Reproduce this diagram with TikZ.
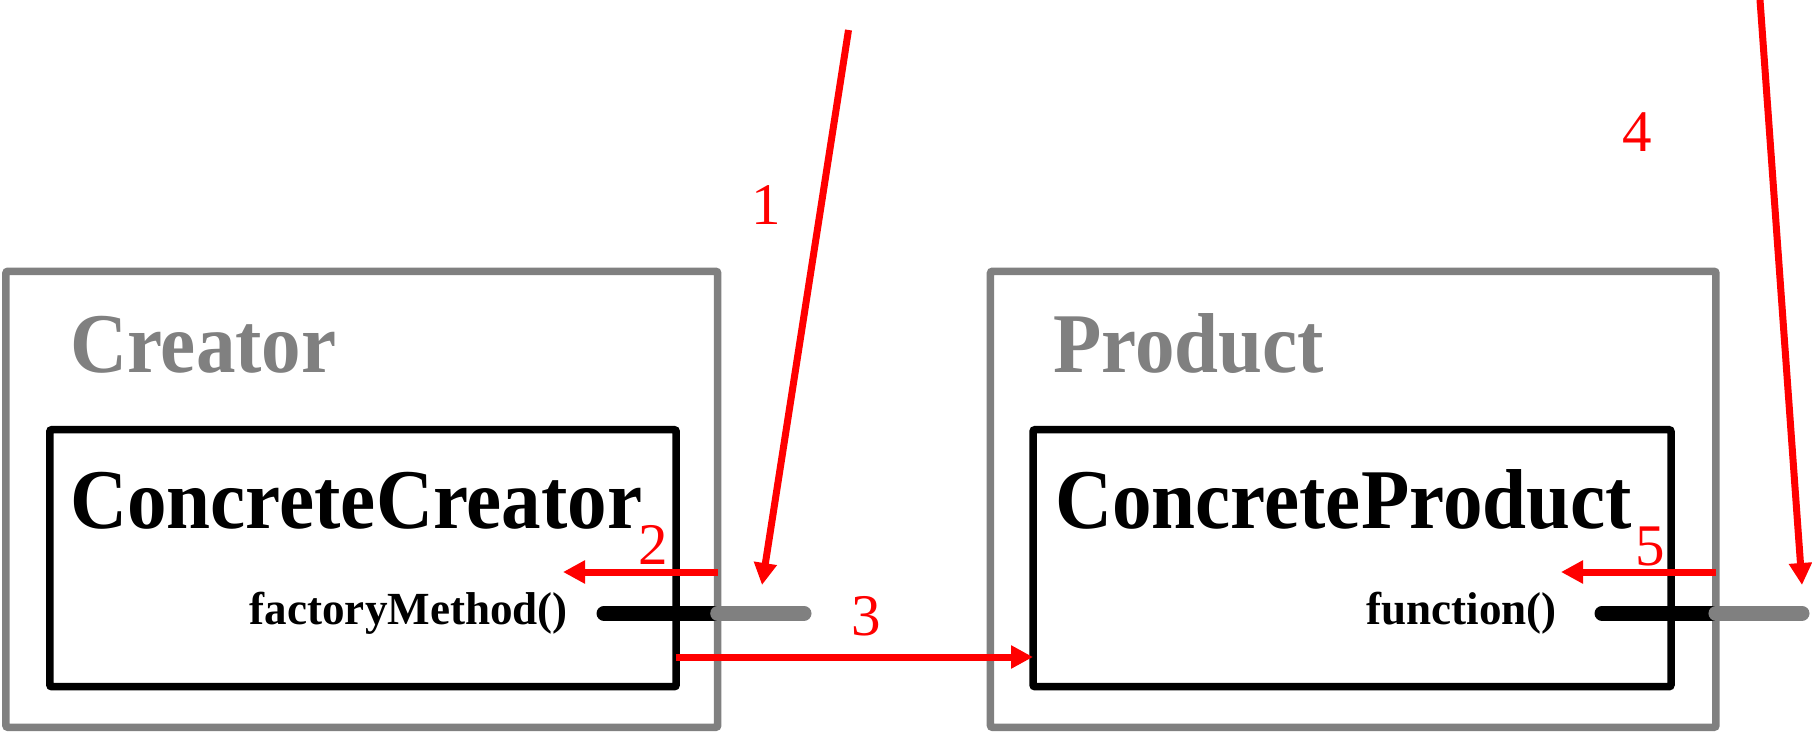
\documentclass[tikz,border=0pt]{standalone}
\usepackage{fontspec}
\setmainfont{Liberation Serif}
\usetikzlibrary{arrows.meta}
\definecolor{boxgray}{RGB}{128,128,128}
\begin{document}
\begin{tikzpicture}[x=1pt,y=-1pt,
  outerbox/.style={draw=boxgray, line width=7.5pt, rounded corners=2pt, outer sep=0pt, inner sep=0pt, rectangle},
  innerbox/.style={draw=black, line width=7.5pt, rounded corners=2pt, outer sep=0pt, inner sep=0pt, rectangle},
  title/.style={anchor=base west, inner sep=0pt, font=\bfseries\fontsize{85}{100}\selectfont},
  method/.style={anchor=base east, inner sep=0pt, font=\bfseries\fontsize{46}{55}\selectfont},
  num/.style={anchor=base west, inner sep=0pt, text=red, font=\fontsize{59}{70}\selectfont},
  blackbar/.style={draw=black, line width=15pt, line cap=round},
  graybar/.style={draw=boxgray, line width=15pt, line cap=round},
  redarrow/.style={draw=red, line width=7pt, -{Triangle[length=22pt,width=22pt]}}
]
\useasboundingbox (0,0) rectangle (1812,733);

% boxes
\node[outerbox, minimum width=711.8pt, minimum height=456pt] (creator) at (361.8,499.3) {};
\node[innerbox, minimum width=626.4pt, minimum height=257pt] (ccreator) at (363,558.2) {};
\node[outerbox, minimum width=725.5pt, minimum height=456pt] (product) at (1353.2,499.3) {};
\node[innerbox, minimum width=638pt, minimum height=257pt] (cproduct) at (1352,558.2) {};

% titles
\node[title, text=boxgray] (creatorlbl) at (70,372) {\scalebox{0.93}[1]{Creator}};
\node[title, text=boxgray] (productlbl) at (1053,372) {\scalebox{0.93}[1]{Product}};
\node[title] (ccreatorlbl) at (70,528.5) {\scalebox{0.93}[1]{ConcreteCreator}};
\node[title] (cproductlbl) at (1055,528.5) {\scalebox{0.93}[1]{ConcreteProduct}};

% methods
\node[method] (fm) at (568,624) {\scalebox{0.98}[1]{factoryMethod()}};
\node[method] (fn) at (1557,624) {\scalebox{0.98}[1]{function()}};

% method bars
\coordinate (fmL) at (604,613.3);
\coordinate (fmR) at (804,613.3);
\coordinate (fnL) at (1602,613.3);
\coordinate (fnR) at (1802,613.3);
\draw[blackbar] (fmL) -- (fmL -| creator.east);
\draw[graybar] (fmL -| creator.east) -- (fmR);
\draw[blackbar] (fnL) -- (fnL -| product.east);
\draw[graybar] (fnL -| product.east) -- (fnR);

% red arrows
\coordinate (a1s) at (848.5,30);
\coordinate (a1e) at (762,585);
\draw[redarrow] (a1s) -- (a1e);

\coordinate (a2e) at (563,572);
\draw[redarrow] (a2e -| creator.east) -- (a2e);

\coordinate (a3) at (0,657);
\draw[redarrow] (ccreator.east |- a3) -- (cproduct.west |- a3);

\coordinate (a4s) at (1760,0);
\coordinate (a4e) at (1802,585);
\draw[redarrow] (a4s) -- (a4e);

\coordinate (a5e) at (1561,572);
\draw[redarrow] (a5e -| product.east) -- (a5e);

% numbers
\node[num] (n1) at (751,224) {1};
\node[num] (n2) at (638,564) {2};
\node[num] (n3) at (851,635) {3};
\node[num] (n4) at (1622,151) {4};
\node[num] (n5) at (1635,565) {5};
\end{tikzpicture}
\end{document}
